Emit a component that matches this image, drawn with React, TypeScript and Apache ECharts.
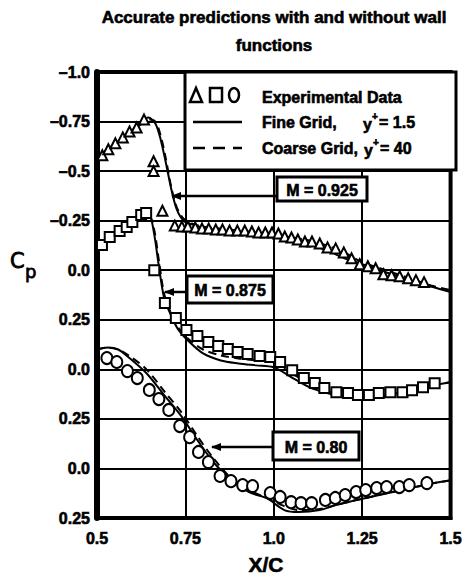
import React, { useEffect, useRef } from "react";
import * as echarts from "echarts";

// ---- Data (Cp; each Mach case is shifted down the stacked axis) ----
const yTickLabels = ["–1.0", "–0.75", "–0.5", "–0.25", "0.0", "0.25", "0.0", "0.25", "0.0", "0.25"];
const xTickLabels = ["0.5", "0.75", "1.0", "1.25", "1.5"];

const offset925 = 0;
const offset875 = 0.5;
const offset80 = 1.0;

// M = 0.925
const exp925X = [0.515, 0.532, 0.552, 0.573, 0.592, 0.612, 0.633, 0.66, 0.66, 0.685, 0.72, 0.74, 0.757, 0.778, 0.797, 0.816, 0.836, 0.855, 0.875, 0.897, 0.918, 0.938, 0.957, 0.976, 0.995, 1.013, 1.031, 1.05, 1.068, 1.088, 1.108, 1.13, 1.152, 1.175, 1.198, 1.22, 1.243, 1.266, 1.288, 1.31, 1.333, 1.356, 1.38, 1.402, 1.425];
const exp925Cp = [-0.58, -0.61, -0.64, -0.67, -0.7, -0.72, -0.76, -0.55, -0.5, -0.3, -0.225, -0.22, -0.22, -0.215, -0.21, -0.21, -0.205, -0.205, -0.2, -0.2, -0.2, -0.195, -0.19, -0.19, -0.19, -0.185, -0.17, -0.165, -0.155, -0.145, -0.145, -0.135, -0.115, -0.11, -0.09, -0.06, -0.03, -0.02, -0.01, 0.02, 0.025, 0.03, 0.04, 0.05, 0.06];
const fine925X = [0.5, 0.53, 0.56, 0.59, 0.62, 0.645, 0.665, 0.68, 0.695, 0.71, 0.725, 0.745, 0.77, 0.8, 0.85, 0.9, 0.95, 1.0, 1.05, 1.1, 1.15, 1.2, 1.25, 1.3, 1.35, 1.4, 1.45, 1.5];
const fine925Cp = [-0.57, -0.61, -0.65, -0.69, -0.74, -0.77, -0.74, -0.66, -0.54, -0.41, -0.31, -0.25, -0.23, -0.215, -0.2, -0.185, -0.175, -0.165, -0.15, -0.13, -0.1, -0.06, -0.03, 0.0, 0.03, 0.06, 0.085, 0.11];
const coarse925Cp = [-0.57, -0.61, -0.65, -0.69, -0.73, -0.76, -0.75, -0.68, -0.56, -0.42, -0.32, -0.26, -0.235, -0.22, -0.21, -0.2, -0.19, -0.18, -0.165, -0.15, -0.125, -0.09, -0.04, -0.01, 0.02, 0.05, 0.08, 0.1];

// M = 0.875
const exp875X = [0.514, 0.536, 0.564, 0.584, 0.6, 0.625, 0.639, 0.662, 0.692, 0.723, 0.753, 0.784, 0.815, 0.843, 0.87, 0.898, 0.926, 0.96, 0.99, 1.018, 1.052, 1.085, 1.116, 1.143, 1.177, 1.21, 1.238, 1.269, 1.297, 1.33, 1.364, 1.391, 1.422, 1.455];
const exp875Cp = [-0.627, -0.667, -0.698, -0.718, -0.743, -0.779, -0.789, -0.5, -0.335, -0.259, -0.198, -0.168, -0.138, -0.118, -0.102, -0.087, -0.077, -0.067, -0.062, -0.037, 0.004, 0.044, 0.069, 0.094, 0.115, 0.12, 0.13, 0.13, 0.12, 0.115, 0.115, 0.105, 0.09, 0.07];
const fine875X = [0.5, 0.53, 0.56, 0.59, 0.62, 0.645, 0.66, 0.675, 0.69, 0.71, 0.73, 0.76, 0.8, 0.85, 0.9, 0.95, 1.0, 1.05, 1.1, 1.15, 1.2, 1.25, 1.3, 1.35, 1.4, 1.45, 1.5];
const fine875Cp = [-0.6, -0.65, -0.7, -0.74, -0.78, -0.79, -0.7, -0.52, -0.36, -0.27, -0.2, -0.14, -0.08, -0.045, -0.03, -0.02, -0.01, 0.04, 0.09, 0.12, 0.14, 0.15, 0.14, 0.12, 0.1, 0.08, 0.065];
const coarse875Cp = [-0.6, -0.65, -0.7, -0.74, -0.77, -0.78, -0.72, -0.55, -0.38, -0.28, -0.21, -0.15, -0.1, -0.07, -0.055, -0.045, -0.035, 0.02, 0.07, 0.11, 0.13, 0.14, 0.135, 0.12, 0.1, 0.08, 0.065];

// M = 0.80
const exp80X = [0.528, 0.556, 0.586, 0.614, 0.648, 0.675, 0.703, 0.734, 0.762, 0.787, 0.815, 0.848, 0.879, 0.912, 0.94, 0.99, 1.018, 1.049, 1.077, 1.107, 1.146, 1.174, 1.202, 1.233, 1.26, 1.291, 1.319, 1.355, 1.383, 1.433];
const exp80Cp = [-0.557, -0.537, -0.491, -0.456, -0.396, -0.35, -0.295, -0.214, -0.158, -0.083, -0.032, 0.038, 0.064, 0.084, 0.089, 0.124, 0.144, 0.17, 0.175, 0.175, 0.159, 0.149, 0.134, 0.119, 0.109, 0.099, 0.094, 0.094, 0.084, 0.074];
const fine80X = [0.5, 0.53, 0.56, 0.59, 0.64, 0.69, 0.74, 0.785, 0.83, 0.88, 0.93, 0.98, 1.03, 1.07, 1.13, 1.175, 1.22, 1.27, 1.32, 1.36, 1.41, 1.45, 1.5];
const fine80Cp = [-0.6, -0.61, -0.6, -0.56, -0.48, -0.37, -0.26, -0.14, -0.03, 0.06, 0.12, 0.15, 0.21, 0.22, 0.21, 0.185, 0.165, 0.145, 0.125, 0.11, 0.09, 0.075, 0.06];
const coarse80Cp = [-0.6, -0.61, -0.6, -0.57, -0.5, -0.39, -0.28, -0.16, -0.05, 0.05, 0.11, 0.15, 0.19, 0.21, 0.205, 0.185, 0.165, 0.145, 0.125, 0.11, 0.09, 0.075, 0.06];

const pairs = (xs: number[], ys: number[], off: number) => xs.map((x, i) => [x, ys[i] + off]);

const FONT = "'Liberation Sans', Arial, sans-serif";

export default function App() {
  const ref = useRef<HTMLDivElement>(null);
  useEffect(() => {
    if (!ref.current) return;
    const chart = echarts.init(ref.current, null, { renderer: "svg" });

    const lineSeries = (name: string, data: number[][], dashed: boolean) => ({
      name,
      type: "line",
      data,
      symbol: "none",
      smooth: 0.3,
      lineStyle: { color: "#000", width: 2, type: dashed ? [8, 5] : "solid" },
      z: 3,
    });
    const scatterSeries = (name: string, data: number[][], symbol: string, size: number | number[]) => ({
      name,
      type: "scatter",
      data,
      symbol,
      symbolSize: size,
      itemStyle: { color: "#ffffff", borderColor: "#000", borderWidth: 2, opacity: 1 },
      z: 4,
    });

    const txt = (x: number, y: number, text: string, fontSize: number, extra: any = {}) => ({
      type: "text",
      x,
      y,
      z: 20,
      style: {
        text,
        fontSize,
        fontWeight: "bold",
        fontFamily: FONT,
        fill: "#000",
        stroke: "#000",
        lineWidth: 0.6,
        textVerticalAlign: "middle",
        ...extra,
      },
    });

    const box = (x: number, y: number, w: number, h: number, label: string, ax1: number, ax2: number, ay: number) => [
      {
        type: "line",
        z: 15,
        shape: { x1: ax1, y1: ay, x2: ax2, y2: ay },
        style: { stroke: "#000", lineWidth: 2.5 },
      },
      {
        type: "polygon",
        z: 15,
        shape: { points: [[ax1 - 1, ay], [ax1 + 9, ay - 4], [ax1 + 9, ay + 4]] },
        style: { fill: "#000" },
      },
      {
        type: "rect",
        z: 16,
        shape: { x, y, width: w, height: h },
        style: { fill: "#fff", stroke: "#000", lineWidth: 3 },
      },
      txt(x + w / 2, y + h / 2 + 1, label, 16, { textAlign: "center" }),
    ];

    const axisLabelStyle = {
      fontSize: 16,
      fontWeight: "bold",
      fontFamily: FONT,
      color: "#000",
      textBorderColor: "#000",
      textBorderWidth: 0.6,
    };

    const option: any = {
      animation: false,
      backgroundColor: "#fff",
      grid: {
        left: 97,
        right: 9,
        top: 72,
        bottom: 57,
        show: true,
        borderColor: "#000",
        borderWidth: 4,
      },
      xAxis: {
        type: "value",
        min: 0.5,
        max: 1.5,
        interval: 0.25,
        axisLine: { show: true, onZero: false, lineStyle: { color: "#000", width: 4 } },
        axisTick: { show: false },
        splitLine: { show: true, lineStyle: { color: "#000", width: 2 } },
        axisLabel: {
          ...axisLabelStyle,
          margin: 12,
          formatter: (v: number) => xTickLabels[Math.round((v - 0.5) / 0.25)] ?? "",
        },
      },
      yAxis: {
        type: "value",
        inverse: true,
        min: -1,
        max: 1.25,
        interval: 0.25,
        axisLine: { show: true, onZero: false, lineStyle: { color: "#000", width: 6 } },
        axisTick: { show: false },
        splitLine: { show: true, lineStyle: { color: "#000", width: 2 } },
        axisLabel: {
          ...axisLabelStyle,
          margin: 7,
          formatter: (v: number) => yTickLabels[Math.round((v + 1) / 0.25)] ?? "",
        },
      },
      series: [
        lineSeries("Fine 0.925", pairs(fine925X, fine925Cp, offset925), false),
        lineSeries("Coarse 0.925", pairs(fine925X, coarse925Cp, offset925), true),
        lineSeries("Fine 0.875", pairs(fine875X, fine875Cp, offset875), false),
        lineSeries("Coarse 0.875", pairs(fine875X, coarse875Cp, offset875), true),
        lineSeries("Fine 0.80", pairs(fine80X, fine80Cp, offset80), false),
        lineSeries("Coarse 0.80", pairs(fine80X, coarse80Cp, offset80), true),
        scatterSeries("Exp 0.925", pairs(exp925X, exp925Cp, offset925), "triangle", [10, 10]),
        scatterSeries("Exp 0.875", pairs(exp875X, exp875Cp, offset875), "rect", [10, 10]),
        scatterSeries("Exp 0.80", pairs(exp80X, exp80Cp, offset80), "circle", [11, 12]),
      ],
      graphic: [
        // title
        txt(274, 17, "Accurate predictions with and without wall", 17, { textAlign: "center" }),
        txt(274, 45, "functions", 17, { textAlign: "center" }),
        // axis titles
        txt(10, 261, "C", 21, { fontWeight: "normal", fontFamily: "'DejaVu Sans', sans-serif", lineWidth: 0.8 }),
        txt(25, 271, "p", 18, { fontWeight: "normal", fontFamily: "'DejaVu Sans', sans-serif", lineWidth: 0.8 }),
        txt(266, 564, "X/C", 21, { textAlign: "center" }),
        // legend box
        {
          type: "rect",
          z: 16,
          shape: { x: 185, y: 72, width: 271, height: 98 },
          style: { fill: "#fff", stroke: "#000", lineWidth: 3 },
        },
        {
          type: "polygon",
          z: 17,
          shape: { points: [[196, 88], [190, 102], [202, 102]] },
          style: { fill: "#fff", stroke: "#000", lineWidth: 2.5 },
        },
        {
          type: "rect",
          z: 17,
          shape: { x: 210, y: 88, width: 12, height: 14 },
          style: { fill: "#fff", stroke: "#000", lineWidth: 2.5 },
        },
        {
          type: "ellipse",
          z: 17,
          shape: { cx: 234, cy: 95, rx: 5, ry: 7 },
          style: { fill: "#fff", stroke: "#000", lineWidth: 2.5 },
        },
        txt(262, 97, "Experimental Data", 16),
        {
          type: "line",
          z: 17,
          shape: { x1: 193, y1: 122, x2: 242, y2: 122 },
          style: { stroke: "#000", lineWidth: 2.5 },
        },
        txt(262, 122, "Fine Grid,", 16),
        txt(363, 124, "y", 16),
        txt(372, 116, "+", 10),
        txt(379, 122, "= 1.5", 16),
        {
          type: "line",
          z: 17,
          shape: { x1: 193, y1: 148, x2: 242, y2: 148 },
          style: { stroke: "#000", lineWidth: 2.5, lineDash: [12, 8] },
        },
        txt(262, 148, "Coarse Grid,", 16),
        txt(364, 150, "y", 16),
        txt(373, 142, "+", 10),
        txt(380, 148, "= 40", 16),
        // Mach annotations
        ...box(277, 177, 90, 24, "M = 0.925", 172, 277, 196),
        ...box(187, 276, 86, 27, "M = 0.875", 165, 187, 292),
        ...box(273, 432, 86, 28, "M = 0.80", 212, 273, 447),
      ],
    };
    chart.setOption(option);
    return () => chart.dispose();
  }, []);
  return (
    <div
      ref={ref}
      style={{ position: "fixed", left: 0, top: 0, width: 465, height: 575, background: "#fff" }}
    />
  );
}
